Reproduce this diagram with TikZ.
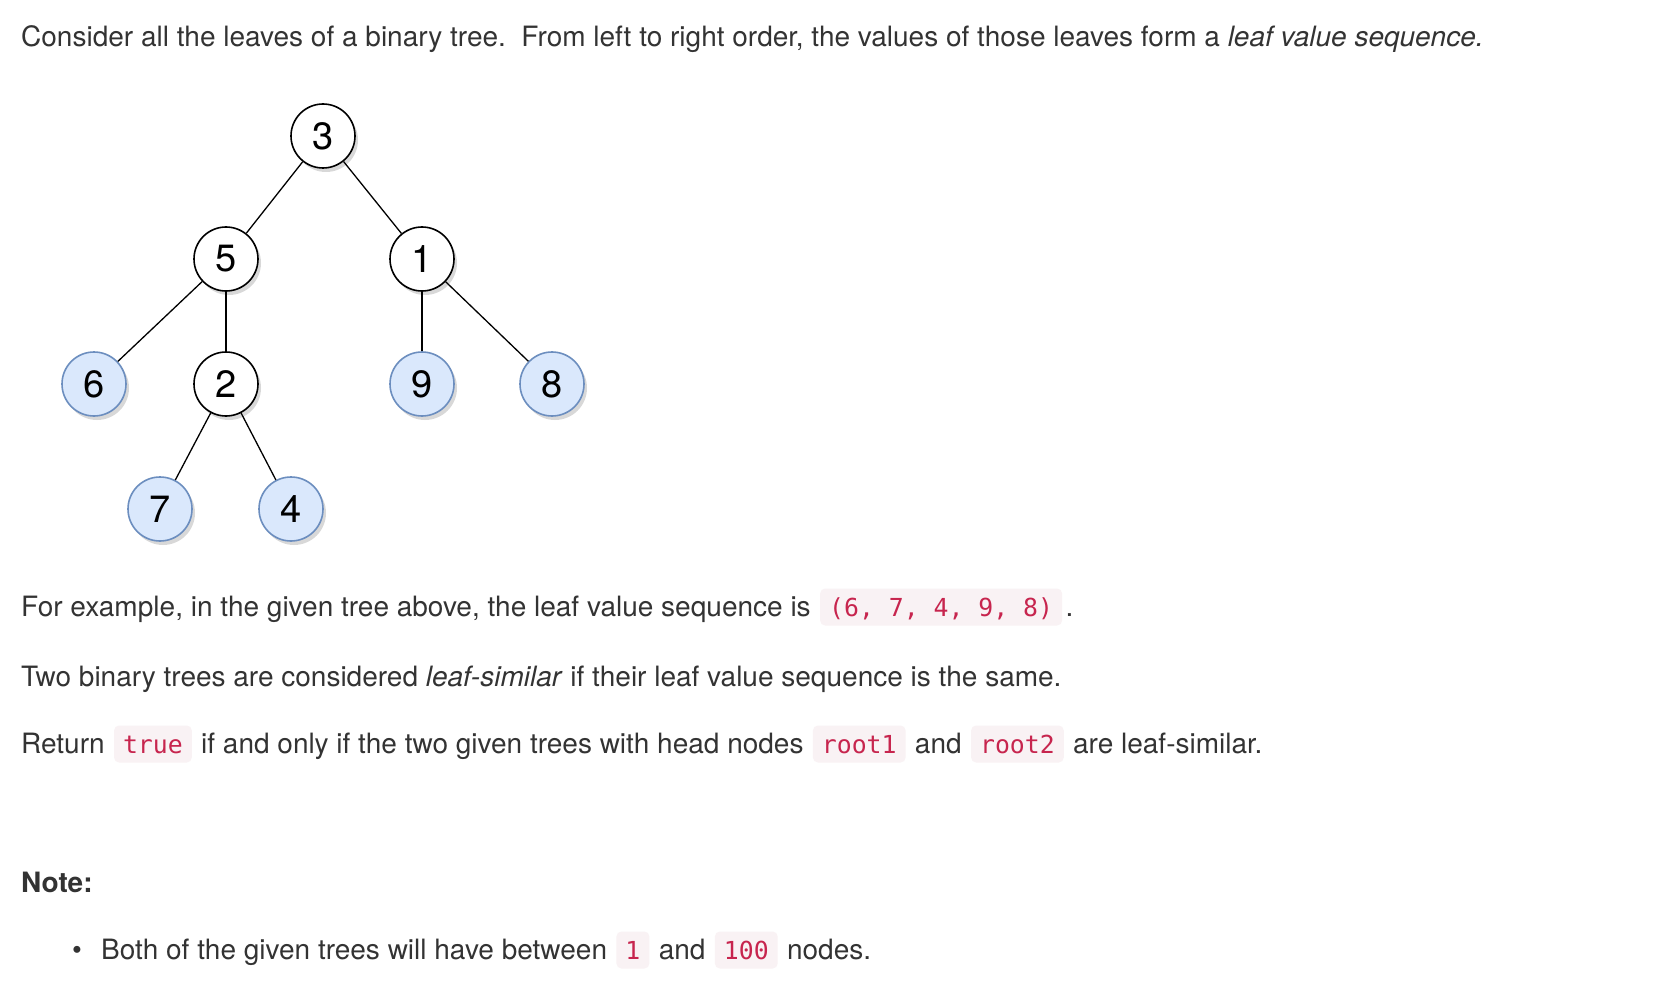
\documentclass[tikz,border=0pt]{standalone}
\usepackage{fontspec}
\setmainfont{TeX Gyre Heros}
\newfontfamily\codefam{DejaVu Sans Mono}
\usepackage{xcolor}
\usetikzlibrary{positioning, shadows}
\definecolor{textgray}{RGB}{51,51,51}
\definecolor{codered}{RGB}{199,37,78}
\definecolor{codebg}{RGB}{249,242,244}
\definecolor{leafblue}{RGB}{218,232,252}
\definecolor{leafedge}{RGB}{108,142,191}
\newcommand{\bodyfont}{\fontsize{28}{33}\selectfont}
\newcommand{\codefont}{\fontsize{24.8}{30}\selectfont\codefam}
\newcommand{\digitfont}{\fontsize{38}{44}\selectfont}
\tikzset{
  txt/.style = {anchor=base west, inner sep=0pt, text=textgray, font=\bodyfont},
  codebox/.style = {anchor=base west, inner xsep=9pt, inner ysep=0pt,
    text height=27.5pt, text depth=9.5pt, fill=codebg, rounded corners=5pt,
    text=codered, font=\codefont},
  inode/.style = {circle, draw=black, fill=white, line width=1.6pt,
    minimum size=64pt, inner sep=0pt, font=\digitfont,
    drop shadow={shadow xshift=3pt, shadow yshift=-4pt, opacity=0.3, fill=black!50}},
  leafnode/.style = {inode, draw=leafedge, fill=leafblue},
  edge/.style = {line width=1.3pt, black}
}

\begin{document}
\begin{tikzpicture}[x=1pt, y=-1pt]
    \useasboundingbox[fill=white] (0,0) rectangle (1662,1000);

    % intro line
    \node[txt] (intro) at (21,47) {Consider all the leaves of a binary tree.\ \ From left to right order, the values of those leaves form a \textit{leaf value sequence.}};

    % the tree
    \node[inode] (n3) at (323,136) {3};
    \node[inode] (n5) at (226,259) {5};
    \node[inode] (n1) at (422,259) {1};
    \node[leafnode] (n6) at (94,384) {6};
    \node[inode] (n2) at (226,384) {2};
    \node[leafnode] (n9) at (422,384) {9};
    \node[leafnode] (n8) at (552,384) {8};
    \node[leafnode] (n7) at (160,509) {7};
    \node[leafnode] (n4) at (291,509) {4};

    \draw[edge] (n3) -- (n5);
    \draw[edge] (n3) -- (n1);
    \draw[edge] (n5) -- (n6);
    \draw[edge] (n5) -- (n2);
    \draw[edge] (n2) -- (n7);
    \draw[edge] (n2) -- (n4);
    \draw[edge] (n1) -- (n9);
    \draw[edge] (n1) -- (n8);

    % example
    \node[txt] (ex) at (21,616) {For example, in the given tree above, the leaf value sequence is};
    \node[codebox] (seq) at ([xshift=9pt]ex.base east) {(6, 7, 4, 9, 8)};
    \node[txt] (exdot) at ([xshift=3pt]seq.base east) {.};

    % definition
    \node[txt] (def) at (21,686) {Two binary trees are considered \textit{leaf-similar} if their leaf value sequence is the same.};

    % return line
    \node[txt] (ret) at (21,753) {Return};
    \node[codebox] (true) at ([xshift=9pt]ret.base east) {true};
    \node[txt] (ret2) at ([xshift=9pt]true.base east) {if and only if the two given trees with head nodes};
    \node[codebox] (rootA) at ([xshift=9pt]ret2.base east) {root1};
    \node[txt] (ret3) at ([xshift=9pt]rootA.base east) {and};
    \node[codebox] (rootB) at ([xshift=9pt]ret3.base east) {root2};
    \node[txt] (ret4) at ([xshift=9pt]rootB.base east) {are leaf-similar.};

    % note
    \node[txt, font=\bodyfont\bfseries] (note) at (21,892) {Note:};
    \node[txt, anchor=base] (bul) at (77,959) {\textbullet};
    \node[txt] (nb) at (101,959) {Both of the given trees will have between};
    \node[codebox] (lo) at ([xshift=9pt]nb.base east) {1};
    \node[txt] (nb2) at ([xshift=9pt]lo.base east) {and};
    \node[codebox] (hi) at ([xshift=9pt]nb2.base east) {100};
    \node[txt] (nb3) at ([xshift=9pt]hi.base east) {nodes.};
\end{tikzpicture}
\end{document}
